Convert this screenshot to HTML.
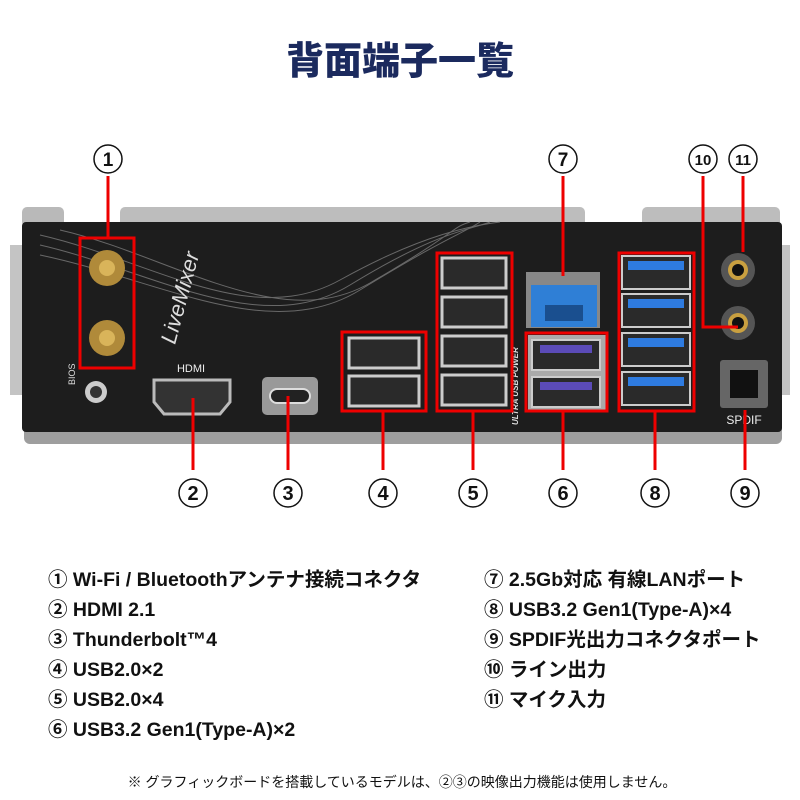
<!DOCTYPE html>
<html><head><meta charset="utf-8"><style>
body{margin:0;width:800px;height:800px;background:#fff;overflow:hidden;font-family:"Liberation Sans","Noto Sans CJK JP",sans-serif}
svg{position:absolute;left:0;top:0}
.t{font-family:"Liberation Sans","Noto Sans CJK JP",sans-serif}
</style></head><body>
<svg width="800" height="800" viewBox="0 0 800 800">
<text x="400" y="74" text-anchor="middle" class="t" font-size="38" font-weight="900" fill="#1b2a5e">背面端子一覧</text>
<rect x="22" y="207" width="42" height="20" rx="5" fill="#b9b9b9"/>
<rect x="120" y="207" width="465" height="20" rx="5" fill="#bdbdbd"/>
<rect x="642" y="207" width="138" height="20" rx="5" fill="#bdbdbd"/>
<rect x="10" y="245" width="16" height="150" fill="#c4c4c4"/>
<rect x="774" y="245" width="16" height="150" fill="#c4c4c4"/>
<rect x="24" y="420" width="758" height="24" rx="6" fill="#9e9e9e"/>
<rect x="22" y="222" width="760" height="210" rx="4" fill="#1d1d1d"/>
<g fill="none" stroke="#888" stroke-width="1" opacity="0.7">
<path d="M40 235 C150 260,250 330,340 280 S480 225,500 222"/>
<path d="M40 245 C150 270,260 340,350 285 S470 230,490 222"/>
<path d="M40 255 C160 280,270 345,360 290 S460 235,480 222"/>
<path d="M60 230 C170 255,280 335,370 283 S450 228,470 222"/>
</g>
<text x="175" y="345" class="t" font-size="22" fill="#ddd" font-style="italic" transform="rotate(-75 175 345)">LiveMixer</text>
<circle cx="107" cy="268" r="18" fill="#b08a3a"/><circle cx="107" cy="268" r="8" fill="#d9b45a"/>
<circle cx="107" cy="338" r="18" fill="#b08a3a"/><circle cx="107" cy="338" r="8" fill="#d9b45a"/>
<circle cx="96" cy="392" r="11" fill="#ccc"/><circle cx="96" cy="392" r="6" fill="#333"/>
<text x="75" y="385" class="t" font-size="9" fill="#ddd" transform="rotate(-90 75 385)">BIOS</text>
<text x="191" y="372" text-anchor="middle" class="t" font-size="11" fill="#eee">HDMI</text>
<path d="M154 380 H230 V402 L220 414 H164 L154 402Z" fill="#333" stroke="#bbb" stroke-width="3"/>
<rect x="262" y="377" width="56" height="38" rx="5" fill="#999"/>
<rect x="270" y="389" width="40" height="14" rx="7" fill="#222" stroke="#ddd" stroke-width="2"/>
<g fill="#2a2a2a" stroke="#ccc" stroke-width="3">
<rect x="349" y="338" width="70" height="30"/><rect x="349" y="376" width="70" height="30"/>
<rect x="442" y="258" width="64" height="30"/><rect x="442" y="297" width="64" height="30"/>
<rect x="442" y="336" width="64" height="30"/><rect x="442" y="375" width="64" height="30"/>
</g>
<rect x="526" y="272" width="74" height="56" fill="#888"/>
<rect x="531" y="285" width="66" height="42" fill="#2f7fd6"/>
<rect x="545" y="305" width="38" height="16" fill="#1a4f8f"/>
<rect x="528" y="335" width="78" height="75" fill="#aaa"/>
<rect x="532" y="340" width="68" height="30" fill="#2a2a2a" stroke="#ccc" stroke-width="2"/><rect x="540" y="345" width="52" height="8" fill="#5b4bb8"/>
<rect x="532" y="377" width="68" height="30" fill="#2a2a2a" stroke="#ccc" stroke-width="2"/><rect x="540" y="382" width="52" height="8" fill="#5b4bb8"/>
<g fill="#2a2a2a" stroke="#ccc" stroke-width="2">
<rect x="622" y="256" width="68" height="33"/><rect x="622" y="294" width="68" height="33"/>
<rect x="622" y="333" width="68" height="33"/><rect x="622" y="372" width="68" height="33"/>
</g>
<g fill="#2e7be0"><rect x="628" y="261" width="56" height="9"/><rect x="628" y="299" width="56" height="9"/><rect x="628" y="338" width="56" height="9"/><rect x="628" y="377" width="56" height="9"/></g>
<circle cx="738" cy="270" r="17" fill="#555"/><circle cx="738" cy="270" r="10" fill="#c9a040"/><circle cx="738" cy="270" r="6" fill="#111"/>
<circle cx="738" cy="323" r="17" fill="#555"/><circle cx="738" cy="323" r="10" fill="#c9a040"/><circle cx="738" cy="323" r="6" fill="#111"/>
<rect x="720" y="360" width="48" height="48" rx="3" fill="#666"/><rect x="730" y="370" width="28" height="28" fill="#111"/>
<text x="744" y="424" text-anchor="middle" class="t" font-size="12" fill="#eee">SPDIF</text>
<text x="518" y="425" class="t" font-size="8" font-weight="bold" font-style="italic" fill="#ddd" transform="rotate(-90 518 425)">ULTRA USB POWER</text>
<g fill="none" stroke="#e00" stroke-width="3">
<rect x="80" y="238" width="54" height="130"/>
<rect x="342" y="332" width="84" height="79"/>
<rect x="437" y="253" width="75" height="158"/>
<rect x="526" y="333" width="81" height="78"/>
<rect x="619" y="253" width="75" height="158"/>
<path d="M108 176V238M563 176V276M703 176V327H738M743 176V252"/>
<path d="M193 398V470M288 396V470M383 411V470M473 411V470M563 411V470M655 411V470M745 410V470"/>
</g>
<g class="t" font-size="17" font-weight="bold" text-anchor="middle" fill="#111">
<g fill="#fff" stroke="#111" stroke-width="1.5">
<circle cx="108" cy="159" r="14"/><circle cx="563" cy="159" r="14"/><circle cx="703" cy="159" r="14"/><circle cx="743" cy="159" r="14"/>
<circle cx="193" cy="493" r="14"/><circle cx="288" cy="493" r="14"/><circle cx="383" cy="493" r="14"/><circle cx="473" cy="493" r="14"/><circle cx="563" cy="493" r="14"/><circle cx="655" cy="493" r="14"/><circle cx="745" cy="493" r="14"/>
</g>
<text x="108" y="166" font-size="19">1</text><text x="563" y="166" font-size="19">7</text><text x="703" y="165" font-size="15">10</text><text x="743" y="165" font-size="15">11</text>
<text x="193" y="500" font-size="20">2</text><text x="288" y="500" font-size="20">3</text><text x="383" y="500" font-size="20">4</text><text x="473" y="500" font-size="20">5</text><text x="563" y="500" font-size="20">6</text><text x="655" y="500" font-size="20">8</text><text x="745" y="500" font-size="20">9</text>
</g>
<g class="t" font-size="19.5" font-weight="bold" fill="#111">
<text x="48" y="586">① Wi-Fi / Bluetoothアンテナ接続コネクタ</text>
<text x="48" y="616">② HDMI 2.1</text>
<text x="48" y="646">③ Thunderbolt™4</text>
<text x="48" y="676">④ USB2.0×2</text>
<text x="48" y="706">⑤ USB2.0×4</text>
<text x="48" y="736">⑥ USB3.2 Gen1(Type-A)×2</text>
<text x="484" y="586">⑦ 2.5Gb対応 有線LANポート</text>
<text x="484" y="616">⑧ USB3.2 Gen1(Type-A)×4</text>
<text x="484" y="646">⑨ SPDIF光出力コネクタポート</text>
<text x="484" y="676">⑩ ライン出力</text>
<text x="484" y="706">⑪ マイク入力</text>
</g>
<text x="402" y="787" text-anchor="middle" class="t" font-size="14" fill="#111">※ グラフィックボードを搭載しているモデルは、②③の映像出力機能は使用しません。</text>
</svg>
</body></html>
